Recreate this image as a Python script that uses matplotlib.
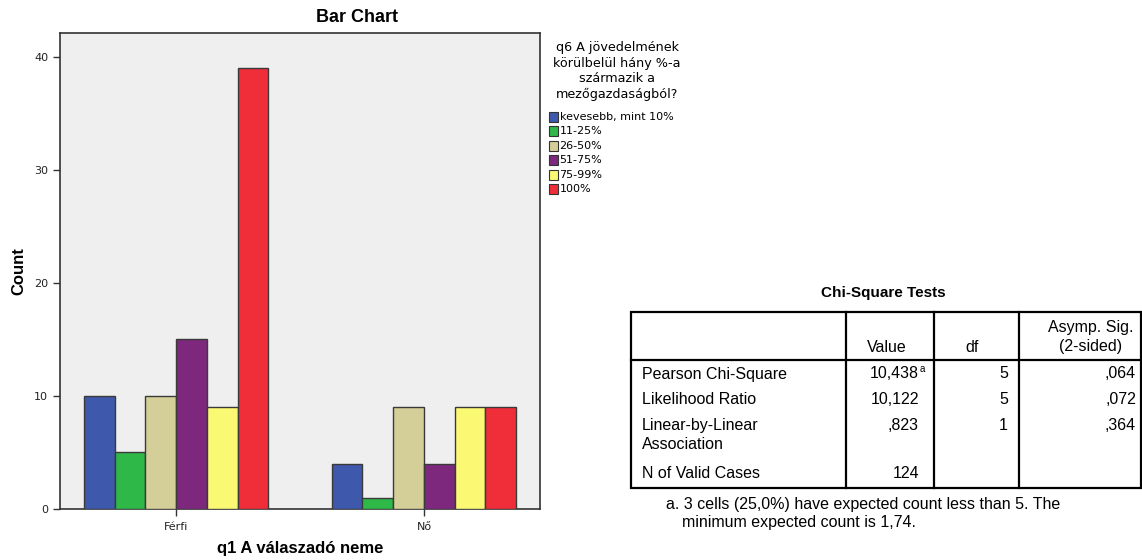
import matplotlib
matplotlib.use("Agg")
import matplotlib.pyplot as plt
from matplotlib.patches import Rectangle
import numpy as np

plt.rcParams['font.family'] = ['Liberation Sans', 'DejaVu Sans']

groups = ['Férfi', 'Nő']
series = ['kevesebb, mint 10%', '11-25%', '26-50%', '51-75%', '75-99%', '100%']
values = {
    'kevesebb, mint 10%': [10, 4],
    '11-25%': [5, 1],
    '26-50%': [10, 9],
    '51-75%': [15, 4],
    '75-99%': [9, 9],
    '100%': [39, 9],
}
colors = ['#3E58AC', '#2EB848', '#D4CE98', '#7D287D', '#FBF873', '#EF2E3A']
legend_title = 'q6 A jövedelmének\nkörülbelül hány %-a\nszármazik a\nmezőgazdaságból?'
yticks = [0, 10, 20, 30, 40]

tbl_title = 'Chi-Square Tests'
tbl_header = ['', 'Value', 'df', 'Asymp. Sig.\n(2-sided)']
tbl_rows = ['Pearson Chi-Square', 'Likelihood Ratio', 'Linear-by-Linear\nAssociation', 'N of Valid Cases']
tbl_value = ['10,438', '10,122', ',823', '124']
tbl_df = ['5', '5', '1', '']
tbl_sig = [',064', ',072', ',364', '']
footnote = ['a. 3 cells (25,0%) have expected count less than 5. The', 'minimum expected count is 1,74.']

W, H = 1142, 560
fig = plt.figure(figsize=(W / 100, H / 100), dpi=100)
fig.patch.set_facecolor('white')

def fbox(l, t, r, b):
    return [l / W, 1 - b / H, (r - l) / W, (b - t) / H]

ax = fig.add_axes(fbox(60, 33, 540, 509))
ax.set_facecolor('#EFEFEF')
x = np.arange(len(groups))
bw = 0.124
n = len(series)
for i, s in enumerate(series):
    ax.bar(x + (i - (n - 1) / 2) * bw, values[s], width=bw, color=colors[i],
           edgecolor='#3A3A3A', linewidth=1.0, zorder=3)
ax.set_xlim(-0.468, 1.468)
ax.set_ylim(0, 42.1)
ax.set_yticks(yticks)
ax.set_xticks(x)
ax.set_xticklabels(groups, family=['DejaVu Sans'])
ax.set_yticklabels([str(v) for v in yticks], family=['DejaVu Sans'])
ax.tick_params(axis='both', labelsize=8, color='#333333', labelcolor='#222222', length=5, width=1)
ax.tick_params(axis='x', pad=4)
for sp in ax.spines.values():
    sp.set_color('#333333')
    sp.set_linewidth(1.2)

ov = fig.add_axes([0, 0, 1, 1])
ov.set_xlim(0, W)
ov.set_ylim(H, 0)
ov.axis('off')
ov.patch.set_alpha(0)

ov.text(357, 18, 'Bar Chart', ha='center', va='center', fontsize=13, fontweight='bold')
ov.text(19, 271, 'Count', ha='center', va='center', rotation=90, fontsize=12, fontweight='bold')
ov.text(300, 549, 'q1 A válaszadó neme', ha='center', va='center', fontsize=12, fontweight='bold')

# legend
ov.text(617, 71, legend_title, ha='center', va='center', fontsize=9.2, linespacing=1.28,
        family=['DejaVu Sans'])
for i, s in enumerate(series):
    y = 117 + i * 14.4
    ov.add_patch(Rectangle((548.5, y - 5), 9, 10, facecolor=colors[i], edgecolor='#333333', lw=0.8))
    ov.text(559.5, y, s, ha='left', va='center', fontsize=8, family=['DejaVu Sans'])

# table
fs = 11.5
ov.text(883, 293, tbl_title, ha='center', va='center', fontsize=11, fontweight='bold')
L, T, R, B = 631, 312, 1141, 488
HS = 360
cols = [846, 934, 1019]
ov.add_patch(Rectangle((L, T), R - L, B - T, fill=False, edgecolor='black', lw=1.6))
ov.plot([L, R], [HS, HS], color='black', lw=1.6)
for c in cols:
    ov.plot([c, c], [T, B], color='black', lw=1.6)
ov.text(907, 348, tbl_header[1], ha='right', va='center', fontsize=fs)
ov.text(972, 348, tbl_header[2], ha='center', va='center', fontsize=fs)
ov.text(1091, 337, tbl_header[3], ha='center', va='center', fontsize=fs, linespacing=1.35)
row_y = [374, 400, 425, 473]
for i, lab in enumerate(tbl_rows):
    ly = row_y[i] + (10 if '\n' in lab else 0)
    ov.text(642, ly, lab, ha='left', va='center', fontsize=fs, linespacing=1.35)
    ov.text(919, row_y[i], tbl_value[i], ha='right', va='center', fontsize=fs)
    if i == 0:
        ov.text(919.5, row_y[i] - 5, 'a', ha='left', va='center', fontsize=7)
    ov.text(1008, row_y[i], tbl_df[i], ha='right', va='center', fontsize=fs)
    ov.text(1136, row_y[i], tbl_sig[i], ha='right', va='center', fontsize=fs)
ov.text(666, 504, footnote[0], ha='left', va='center', fontsize=fs)
ov.text(682, 522, footnote[1], ha='left', va='center', fontsize=fs)

fig.savefig('out.png', dpi=100)
